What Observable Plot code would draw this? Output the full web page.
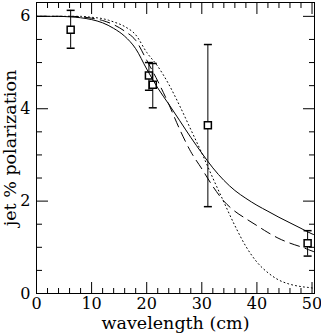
<!DOCTYPE html>
<html><head><meta charset="utf-8">
<script src="https://cdn.jsdelivr.net/npm/d3@7"></script>
<script src="https://cdn.jsdelivr.net/npm/@observablehq/plot@0.6"></script>
<style>body{margin:0;background:#fff}</style>
</head><body><div id="chart"></div>
<script>
// measured points (wavelength in cm, jet % polarization) with error bars
const wavelength = [6.2, 20.4, 21.1, 31.1, 49.2];
const polarization = [5.71, 4.72, 4.52, 3.64, 1.09];
const errLow = [5.31, 4.40, 4.02, 1.88, 0.81];
const errHigh = [6.13, 5.00, 4.98, 5.39, 1.36];

// model curves
const curveX  = [0, 2, 4, 6, 8, 10, 12, 14, 16, 18, 20, 22, 24, 26, 28, 30, 32, 34, 36, 38, 40, 42, 44, 46, 48, 50, 50.45];
const solidY  = [6, 6, 6, 5.99, 5.97, 5.93, 5.86, 5.74, 5.57, 5.30, 4.86, 4.45, 4.10, 3.74, 3.38, 3.04, 2.72, 2.45, 2.23, 2.06, 1.91, 1.78, 1.65, 1.53, 1.41, 1.29, 1.27];
const dashedY = [6, 6, 6, 6, 5.99, 5.96, 5.91, 5.82, 5.68, 5.48, 5.05, 4.60, 4.10, 3.55, 3.07, 2.70, 2.32, 2.00, 1.78, 1.62, 1.47, 1.32, 1.19, 1.09, 1.01, 0.92, 0.90];
const dottedY = [6, 6, 6, 6, 6, 5.98, 5.95, 5.88, 5.78, 5.60, 5.22, 4.92, 4.53, 4.06, 3.55, 3.04, 2.50, 1.98, 1.47, 1.02, 0.68, 0.45, 0.29, 0.20, 0.15, 0.12, 0.11];

const xTicks = [0, 10, 20, 30, 40, 50];
const xMinor = [2, 4, 6, 8, 12, 14, 16, 18, 22, 24, 26, 28, 32, 34, 36, 38, 42, 44, 46, 48];
const yTicks = [0, 2, 4, 6];
const yMinor = [0.5, 1, 1.5, 2.5, 3, 3.5, 4.5, 5, 5.5];
const xTitle = "wavelength (cm)";
const yTitle = "jet % polarization";

const points = wavelength.map((x, i) => ({x, y: polarization[i], lo: errLow[i], hi: errHigh[i]}));
const curves = (ys) => curveX.map((x, i) => ({x, y: ys[i]}));

const capSymbol = {draw(ctx, size) { const r = Math.sqrt(size / Math.PI); ctx.moveTo(-r, 0); ctx.lineTo(r, 0); }};
const boxSymbol = {draw(ctx, size) { const r = Math.sqrt(size / Math.PI); ctx.rect(-r, -r, 2 * r, 2 * r); }};

const font = "DejaVu Serif";
const noText = () => "";

const chart = Plot.plot({
  width: 321, height: 333,
  marginLeft: 36, marginRight: 7, marginTop: 2, marginBottom: 40,
  x: {domain: [0, 50.45]},
  y: {domain: [0, 6.3]},
  style: {fontFamily: font, fontSize: "15px", color: "black", background: "white"},
  marks: [
    // inward ticks on all four sides
    Plot.axisX(xTicks, {anchor: "bottom", tickSize: -11, tickFormat: noText, label: null}),
    Plot.axisX(xMinor, {anchor: "bottom", tickSize: -5, tickFormat: noText, label: null}),
    Plot.axisX(xTicks, {anchor: "top", tickSize: -11, tickFormat: noText, label: null}),
    Plot.axisX(xMinor, {anchor: "top", tickSize: -5, tickFormat: noText, label: null}),
    Plot.axisY(yTicks, {anchor: "left", tickSize: -12, tickFormat: noText, label: null}),
    Plot.axisY(yMinor, {anchor: "left", tickSize: -6, tickFormat: noText, label: null}),
    Plot.axisY(yTicks, {anchor: "right", tickSize: -12, tickFormat: noText, label: null}),
    Plot.axisY(yMinor, {anchor: "right", tickSize: -6, tickFormat: noText, label: null}),
    // tick labels
    Plot.axisX(xTicks, {anchor: "bottom", tickSize: 0, tickPadding: 4, fontSize: 16, label: null}),
    Plot.axisY(yTicks, {anchor: "left", tickSize: 0, tickPadding: 6, fontSize: 16, label: null}),
    // axis titles
    Plot.axisX([], {anchor: "bottom", tickSize: 0, fontSize: 17.5, label: xTitle, labelAnchor: "center", labelArrow: "none", labelOffset: 35}),
    Plot.axisY([], {anchor: "left", tickSize: 0, fontSize: 17.5, label: yTitle, labelAnchor: "center", labelArrow: "none", labelOffset: 33}),
    Plot.frame({stroke: "black"}),
    // error bars
    Plot.ruleX(points, {x: "x", y1: "lo", y2: "hi", stroke: "black"}),
    Plot.dot(points, {x: "x", y: "lo", symbol: capSymbol, r: 4, stroke: "black", fill: "none"}),
    Plot.dot(points, {x: "x", y: "hi", symbol: capSymbol, r: 4, stroke: "black", fill: "none"}),
    Plot.dot(points, {x: "x", y: "y", symbol: boxSymbol, r: 3.5, stroke: "black", fill: "white"}),
    // model curves
    Plot.line(curves(solidY), {x: "x", y: "y", stroke: "black", strokeWidth: 1, curve: "monotone-x"}),
    Plot.line(curves(dashedY), {x: "x", y: "y", stroke: "black", strokeWidth: 1, strokeDasharray: "10,6", curve: "monotone-x"}),
    Plot.line(curves(dottedY), {x: "x", y: "y", stroke: "black", strokeWidth: 1, strokeDasharray: "1,3", curve: "monotone-x"})
  ]
});
document.getElementById("chart").appendChild(chart);
</script>
</body></html>
